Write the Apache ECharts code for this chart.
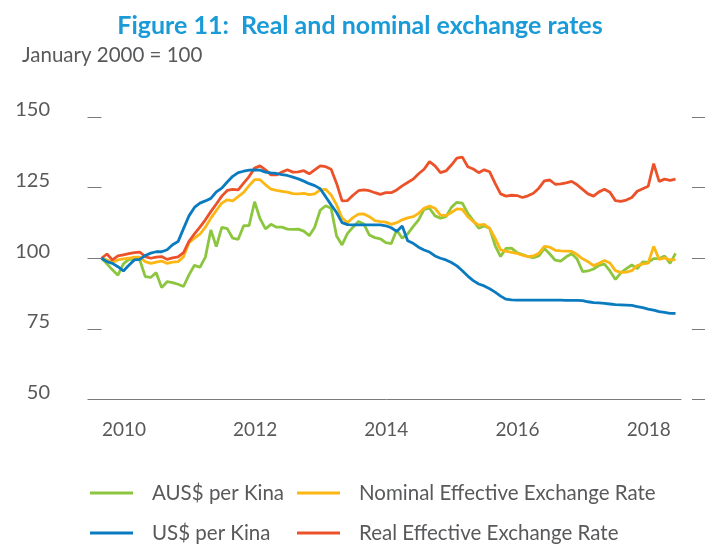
<!DOCTYPE html>
<html>
<head>
<meta charset="utf-8">
<script src="https://cdn.jsdelivr.net/npm/echarts@6/dist/echarts.min.js"></script>
<style>
  html, body { margin: 0; padding: 0; background: #fff; }
  #chart { width: 705px; height: 546px; }
</style>
</head>
<body>
<div id="chart"></div>
<script>
// monthly index values, first point = 100
const audPerKina = [
  100, 98, 95.9, 94, 98, 99.6, 99.6, 99.4, 93.5, 93.2, 94.9, 89.6, 91.7, 91.4, 90.8, 90,
  94.1, 97.5, 96.8, 100.4, 110, 104.1, 110.9, 110.5, 107.1, 106.7, 111.5, 111.6, 120, 114,
  110.4, 112, 111, 111, 110.3, 110.2, 110.3, 109.6, 108, 111, 117, 118.6, 117.7, 107.9, 104.7,
  108.8, 111, 113, 112.1, 108.2, 107.3, 106.9, 105.5, 105.2, 110, 107.1, 108.6, 111.2, 113.6,
  117.3, 117.7, 115, 114.2, 114.7, 118, 119.8, 119.5, 115.9, 113.3, 110.6, 111.4, 110.6, 104.5,
  100.6, 103.5, 103.6, 102, 101.3, 100.6, 100.2, 100.8, 103.5, 101.5, 99.3, 99, 100.5, 101.6,
  99.7, 95.3, 95.5, 96.2, 97.5, 97.9, 95.5, 92.5, 94.8, 96.3, 97.6, 96.3, 98.7, 98.5, 99.9,
  99.9, 100.8, 98.2, 101.7
];
const usdPerKina = [
  100, 98.8, 98.2, 97, 95.5, 97.5, 99.4, 99.6, 101, 101.8, 102.3, 102.3, 103, 104.8, 105.9,
  110.5, 115, 118, 119.5, 120.3, 121.2, 123.5, 124.8, 127, 129, 130.3, 130.8, 131.2, 131.3,
  131.2, 130.5, 130.2, 130, 129.6, 129.3, 128.7, 128.1, 127.3, 126.4, 125.7, 124.6, 121.8,
  118.9, 116.2, 112.6, 111.9, 111.8, 111.8, 111.8, 111.8, 111.8, 111.8, 111.5, 110.8, 109.5,
  111.4, 106.2, 105.3, 103.9, 102.9, 102.2, 100.8, 100, 99.4, 98.5, 97.3, 95.6, 93.7, 92.1,
  90.9, 90.2, 89.2, 88, 86.6, 85.5, 85.3, 85.2, 85.2, 85.2, 85.2, 85.2, 85.2, 85.2, 85.2,
  85.2, 85.1, 85.1, 85.1, 85, 84.6, 84.3, 84.2, 84, 83.8, 83.6, 83.5, 83.4, 83.3, 82.9, 82.5,
  82, 81.6, 81.1, 80.8, 80.5, 80.5
];
const neer = [
  100, 99.4, 98.5, 99.4, 99.8, 100, 100.4, 100.4, 98.8, 98.2, 98.6, 99, 98.2, 98.6, 98.8,
  100.5, 105.5, 107.1, 108.5, 111, 114.2, 116.9, 119.5, 120.7, 120.3, 121.8, 123.3, 125.7,
  127.8, 127.8, 126, 124.5, 124, 123.7, 123.4, 122.9, 122.8, 123, 122.5, 122.8, 124.2, 124.4,
  122.4, 118.9, 114.2, 112.6, 114.4, 115.6, 115.7, 114.7, 113.3, 113, 112.8, 112, 112.6, 113.6,
  114.3, 114.7, 115.9, 117.7, 118.5, 117.7, 115.3, 115.1, 116.2, 117.5, 117.3, 114.7, 113,
  111.7, 112, 110.6, 107, 103, 102.5, 102.1, 101.7, 101.1, 100.6, 100.8, 101.8, 104.2, 103.9,
  102.8, 102.6, 102.5, 102.4, 101.3, 99.8, 98.8, 97.4, 98.2, 99.2, 98.3, 95.6, 95, 95.1, 95.6,
  97.4, 98, 98.3, 104.2, 99.6, 100.1, 99.4, 99.5
];
const reer = [
  100, 101.5, 99.4, 100.8, 101.2, 101.6, 102, 102.2, 100.6, 100, 100.4, 100.6, 99.6, 100.1,
  100.5, 102, 106, 108.6, 111, 113.6, 116.5, 119.2, 122, 124, 124.4, 124.2, 126.6, 128.9,
  131.9, 132.7, 131.3, 129.5, 129.5, 130.5, 131.3, 130.5, 130.6, 131, 129.9, 131.3, 132.7,
  132.4, 131.5, 126.5, 120.3, 120.4, 122.3, 123.9, 124.2, 123.9, 123.2, 122.6, 123.2, 123.2,
  124.2, 125.6, 126.8, 128, 129.9, 131.5, 134.2, 132.7, 130.3, 130.9, 133, 135.4, 135.8, 132.4,
  131.6, 130.3, 131.3, 130.6, 126.5, 122.8, 122, 122.3, 122.2, 121.5, 122.1, 123, 124.8, 127.4,
  127.7, 126.2, 126.3, 126.7, 127.2, 126, 124.4, 122.8, 122, 123.5, 124.4, 123.4, 120.4, 120.1,
  120.6, 121.5, 123.7, 124.6, 125.5, 133.5, 127.2, 128, 127.6, 128
];

const seriesNames = ["AUS$ per Kina", "US$ per Kina", "Nominal Effective Exchange Rate", "Real Effective Exchange Rate"];
const seriesColors = ["#8cc63f", "#0b7bc0", "#fdb714", "#ec5229"];
const xTickLabels = ["2010", "2012", "2014", "2016", "2018"];
const xTickMonths = [4.1, 28.1, 52.1, 76.1, 100.1]; // month index where each label sits
const yTicks = [50, 75, 100, 125, 150];

const chart = echarts.init(document.getElementById("chart"));
const textGrey = "#58595b";
const font = "Lato, 'Noto Sans', sans-serif";

const toPairs = arr => arr.map((v, i) => [i, v]);
const allData = [audPerKina, usdPerKina, neer, reer];

const yAxisBase = {
  type: "value",
  min: yTicks[0],
  max: yTicks[yTicks.length - 1],
  interval: 25,
  splitLine: { show: false },
  axisLine: { show: false },
  axisTick: { show: true, length: 14, lineStyle: { color: "#7a7a7a", width: 1 } }
};

// one legend per entry so the two columns line up like the original
const legendPos = [
  { left: 90, top: 481 },
  { left: 90, top: 521 },
  { left: 297, top: 481 },
  { left: 297, top: 521 }
];

const option = {
  animation: false,
  title: [
    {
      text: "Figure 11:  Real and nominal exchange rates",
      left: 360,
      textAlign: "center",
      top: 13,
      padding: 0,
      textStyle: { color: "#1a9bd7", fontFamily: font, fontWeight: "bold", fontSize: 25 }
    },
    {
      text: "January 2000 = 100",
      left: 22,
      top: 45,
      padding: 0,
      textStyle: { color: textGrey, fontFamily: font, fontWeight: "normal", fontSize: 20.5 }
    }
  ],
  legend: seriesNames.map((name, i) => ({
    data: [name],
    left: legendPos[i].left,
    top: legendPos[i].top,
    padding: 0,
    icon: "rect",
    itemWidth: 43,
    itemHeight: 3,
    selectedMode: false,
    textStyle: { color: textGrey, fontFamily: font, fontSize: 20.5, lineHeight: 24, padding: [0, 0, 0, 14] }
  })),
  grid: { left: 92, right: 24, top: 117, bottom: 146.5 },
  xAxis: {
    type: "value",
    min: -1.74,
    max: 106,
    splitLine: { show: false },
    axisLine: { show: true, lineStyle: { color: "#7a7a7a", width: 1 } },
    axisTick: { show: false },
    axisLabel: {
      customValues: xTickMonths,
      formatter: v => {
        const k = xTickMonths.findIndex(m => Math.abs(m - v) < 0.01);
        return k >= 0 ? xTickLabels[k] : "";
      },
      color: textGrey,
      fontFamily: font,
      fontSize: 19,
      margin: 21
    }
  },
  yAxis: [
    Object.assign({}, yAxisBase, {
      position: "left",
      offset: 7,
      axisLabel: {
        color: textGrey, fontFamily: font, fontSize: 20, margin: 35,
        verticalAlign: "bottom", lineHeight: 14
      }
    }),
    Object.assign({}, yAxisBase, {
      position: "right",
      offset: 11,
      axisTick: { show: true, length: 13, lineStyle: { color: "#7a7a7a", width: 1 } },
      axisLabel: { show: false }
    })
  ],
  series: seriesNames.map((name, i) => ({
    name: name,
    type: "line",
    yAxisIndex: 0,
    data: toPairs(allData[i]),
    showSymbol: false,
    symbol: "none",
    z: i === 1 ? 3 : 2,
    lineStyle: { color: seriesColors[i], width: 2.8 },
    itemStyle: { color: seriesColors[i] }
  }))
};

chart.setOption(option);
</script>
</body>
</html>
